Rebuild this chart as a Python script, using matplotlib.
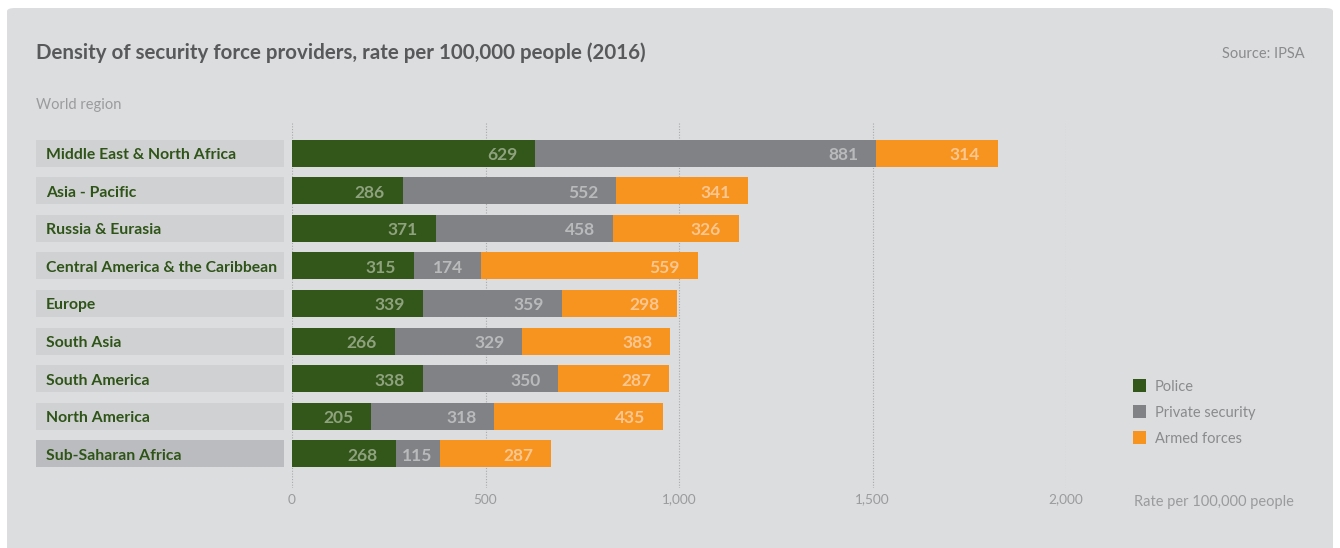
import matplotlib
matplotlib.use("Agg")
import matplotlib.pyplot as plt
from matplotlib.patches import FancyBboxPatch, Rectangle
import matplotlib.transforms as mtransforms

regions = ["Middle East & North Africa", "Asia - Pacific", "Russia & Eurasia",
           "Central America & the Caribbean", "Europe", "South Asia",
           "South America", "North America", "Sub-Saharan Africa"]
police = [629, 286, 371, 315, 339, 266, 338, 205, 268]
private = [881, 552, 458, 174, 359, 329, 350, 318, 115]
armed = [314, 341, 326, 559, 298, 383, 287, 435, 287]
series_names = ["Police", "Private security", "Armed forces"]
xticks = [0, 500, 1000, 1500, 2000]
xtick_labels = ["0", "500", "1,000", "1,500", "2,000"]

colors = ["#33561a", "#818285", "#f7941f"]
label_colors = ["#8fa27e", "#b9babc", "#fbc690"]
FONT = "Lato"

W, H = 1340, 548
fig = plt.figure(figsize=(W / 100, H / 100), dpi=100)
fig.patch.set_facecolor("white")

card = FancyBboxPatch((7 / W, -0.05), (1333 - 7) / W, (H - 8) / H + 0.05,
                      boxstyle="round,pad=0,rounding_size=0.006",
                      transform=fig.transFigure, facecolor="#dcdddf",
                      edgecolor="none", zorder=-5)
fig.patches.append(card)

def fy(py):
    return 1 - py / H

ax_left, ax_right = 292 / W, 1066 / W
ax_top, ax_bot = fy(122), fy(488)
ax = fig.add_axes([ax_left, ax_bot, ax_right - ax_left, ax_top - ax_bot])
ax.set_zorder(2)
ax.set_facecolor("none")
ax.set_xlim(0, 2000)
spacing = 37.6
ax.set_ylim(8 + 34 / spacing, -31 / spacing)
for s in ax.spines.values():
    s.set_visible(False)
ax.set_yticks([])
ax.set_xticks(xticks)
ax.set_xticklabels(xtick_labels, fontsize=9.8, color="#9a9b9d", family=FONT)
ax.tick_params(axis="x", length=0, pad=4)
for t in xticks:
    ax.axvline(t, color="#a9aaac", lw=0.8, ls=(0, (1, 1.5)), zorder=1)

px_per_unit = (1066 - 292) / 2000
bh = 27 / spacing
ys = list(range(len(regions)))
left = [0] * len(regions)
for k, vals in enumerate([police, private, armed]):
    ax.barh(ys, vals, left=left, height=bh, color=colors[k],
            zorder=2, label=series_names[k])
    for y, l, v in zip(ys, left, vals):
        pad = min(18, v * px_per_unit - 37)
        ax.annotate(str(v), xy=(l + v, y), xytext=(-pad, -2),
                    textcoords="offset pixels",
                    ha="right", va="center", fontsize=12.5, fontweight="bold",
                    color=label_colors[k], family=FONT, zorder=3)
    left = [a + b for a, b in zip(left, vals)]

# category label boxes
trans = mtransforms.blended_transform_factory(fig.transFigure, ax.transData)
for i, r in enumerate(regions):
    fc = "#bbbcbf" if i == len(regions) - 1 else "#d0d1d3"
    rect = Rectangle((36 / W, i - bh / 2), (284 - 36) / W, bh, transform=trans,
                     facecolor=fc, edgecolor="none", clip_on=False, zorder=1)
    fig.patches.append(rect)
    ax.annotate(r, xy=(46 / W, i), xycoords=trans, xytext=(0, -2),
                textcoords="offset pixels", fontsize=11.3, fontweight="bold",
                color="#2f5418", family=FONT, va="center", ha="left",
                annotation_clip=False)

fig.text(36 / W, fy(53), "Density of security force providers, rate per 100,000 people (2016)",
         fontsize=14.8, fontweight="bold", color="#58595b", family=FONT, va="center")
fig.text(1305 / W, fy(54), "Source: IPSA", fontsize=10.5, color="#8a8b8d",
         family=FONT, va="center", ha="right")
fig.text(36 / W, fy(105), "World region", fontsize=10.5, color="#9a9b9d",
         family=FONT, va="center")
fig.text(1134 / W, fy(502), "Rate per 100,000 people", fontsize=10.5,
         color="#9a9b9d", family=FONT, va="center")

for k, name in enumerate(series_names):
    yc = 385 + k * 26
    fig.patches.append(Rectangle((1133 / W, fy(yc + 6.5)), 13 / W, 13 / H,
                                 transform=fig.transFigure, facecolor=colors[k],
                                 edgecolor="none", zorder=1))
    fig.text(1155 / W, fy(yc + 2), name, fontsize=10.5, color="#8a8b8d",
             family=FONT, va="center")

fig.savefig("out.png", dpi=100, facecolor="white")
